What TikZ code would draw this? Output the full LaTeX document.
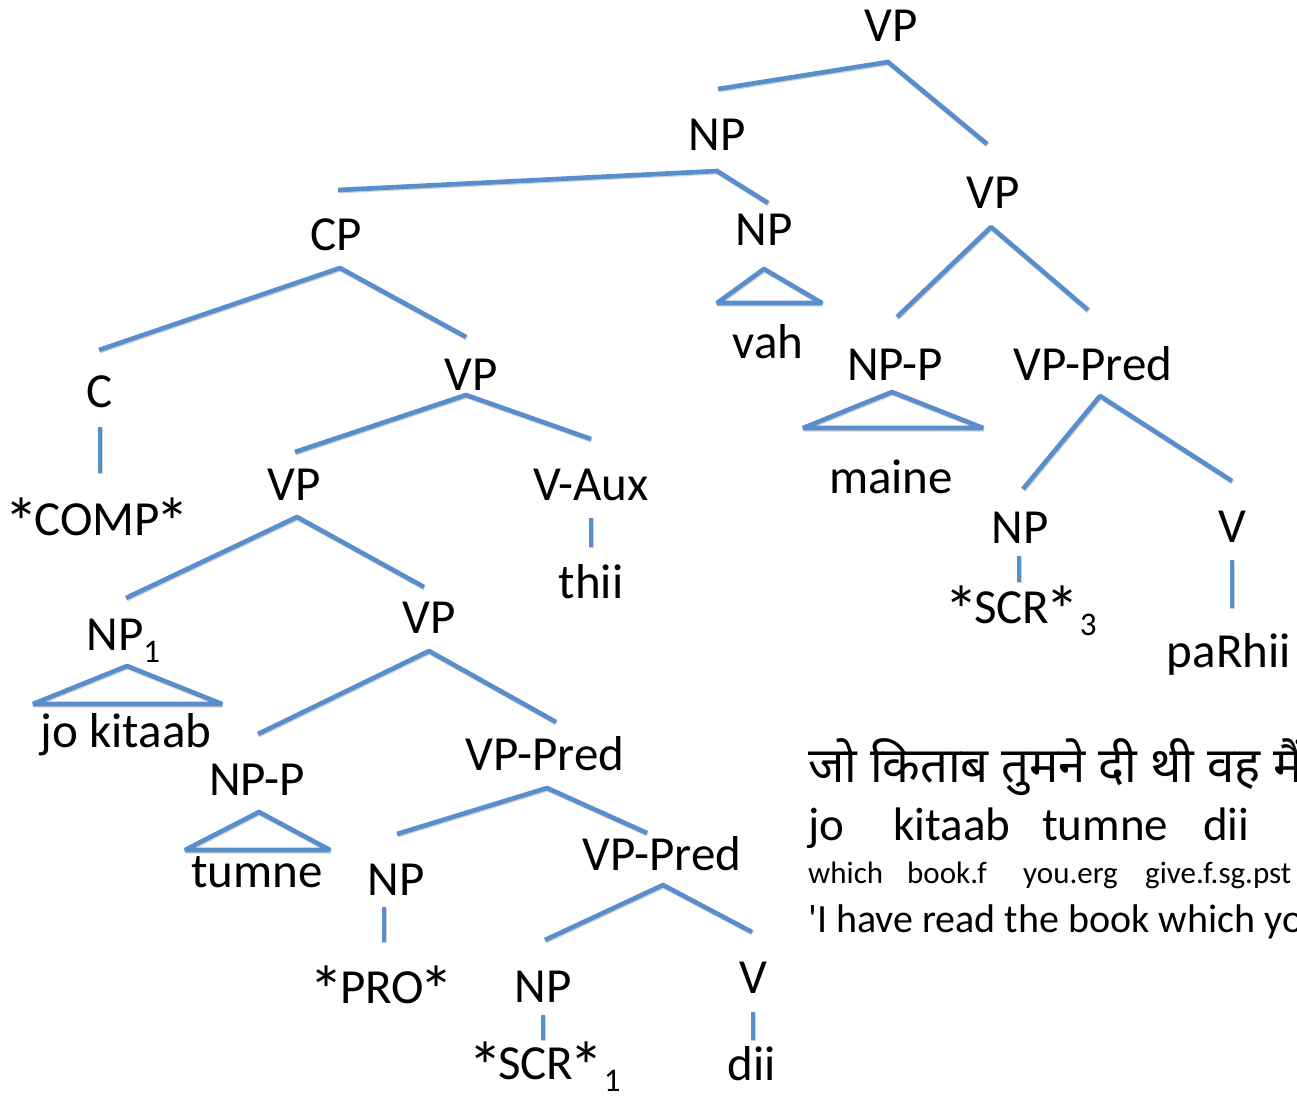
\documentclass[tikz,border=0pt]{standalone}
\usepackage{fontspec}
\setmainfont{Carlito}
\newfontfamily\deva[Script=Devanagari]{Noto Sans}
\definecolor{treeblue}{RGB}{88,142,204}
\begin{document}
\begin{tikzpicture}[x=1pt,y=-1pt,
  lbl/.style={inner sep=0pt, anchor=base, font=\fontsize{49}{50}\selectfont},
  edge/.style={draw=treeblue, line width=4.6pt, line join=bevel,
    preaction={draw=black, draw opacity=0.18, line width=4.6pt, line join=bevel,
      transform canvas={shift={(0.7pt,-1.2pt)}}}},
  glossA/.style={inner sep=0pt, anchor=base west, font=\fontsize{47}{48}\selectfont},
  glossB/.style={inner sep=0pt, anchor=base west, font=\fontsize{31}{32}\selectfont},
  glossC/.style={inner sep=0pt, anchor=base west, font=\fontsize{40}{41}\selectfont},
  devl/.style={inner sep=0pt, anchor=base west, font=\deva\fontsize{49}{50}\selectfont},
]
\newcommand{\subidx}[1]{\rlap{\raisebox{-12pt}{\fontsize{33}{33}\selectfont #1}}}
% enlarged asterisk, top aligned with the capitals
\newcommand{\last}{\smash{\raisebox{-11pt}{\scalebox{1.4}{*}}}\kern-4pt}
\newcommand{\rast}{\kern-4pt\smash{\raisebox{-11pt}{\scalebox{1.4}{*}}}}
\useasboundingbox (0,0) rectangle (1297,1097);
\clip (0,0) rectangle (1297,1097);

% ---- labels of the tree ----
\node[lbl] (vp0)   at (891,42)   {VP};
\node[lbl] (np0)   at (717,150)  {NP};
\node[lbl] (np1)   at (764,245)  {NP};
\node[lbl] (vah)   at (768,358)  {vah};
\node[lbl] (vp1)   at (993,208)  {VP};
\node[lbl] (npp0)  at (895,380)  {NP-P};
\node[lbl] (maine) at (891,493)  {maine};
\node[lbl] (vpp0)  at (1093,380) {VP-Pred};
\node[lbl] (np2)   at (1020,543) {NP};
\node[lbl] (scr3)  at (1012,623) {\last SCR\rast\subidx{3}};
\node[lbl] (v0)    at (1232,542) {V};
\node[lbl] (parhii) at (1229,667) {paRhii};

\node[lbl] (cp)    at (336,250)  {CP};
\node[lbl] (c)     at (100,407)  {C};
\node[lbl] (comp)  at (97,535)   {\last COMP\rast};
\node[lbl] (vp2)   at (471,390)  {VP};
\node[lbl] (vp3)   at (294,500)  {VP};
\node[lbl] (vaux)  at (591,500)  {V-Aux};
\node[lbl] (thii)  at (591,598)  {thii};
\node[lbl] (np3)   at (115,650)  {NP\subidx{1}};
\node[lbl] (jokit) at (126,747)  {jo kitaab};
\node[lbl] (vp4)   at (429,633)  {VP};
\node[lbl] (nppt)  at (257,795)  {NP-P};
\node[lbl] (tumne) at (257,887)  {tumne};
\node[lbl] (vpp1)  at (545,770)  {VP-Pred};
\node[lbl] (np4)   at (396,895)  {NP};
\node[lbl] (pro)   at (382,1003) {\last PRO\rast};
\node[lbl] (vpp2)  at (662,870)  {VP-Pred};
\node[lbl] (np5)   at (543,1002) {NP};
\node[lbl] (scr1)  at (536,1079) {\last SCR\rast\subidx{1}};
\node[lbl] (v1)    at (753,993)  {V};
\node[lbl] (dii)   at (752,1080) {dii};

% ---- branch points ----
\coordinate (vp0-t) at (888,62);   \coordinate (vp0-l) at (718,89);   \coordinate (vp0-r) at (987,144);
\coordinate (np0-t) at (717,171);  \coordinate (np0-l) at (338,190);  \coordinate (np0-r) at (768,203);
\coordinate (np1-t) at (764,269);  \coordinate (np1-l) at (717,303);  \coordinate (np1-r) at (822,303);
\coordinate (vp1-t) at (991,227);  \coordinate (vp1-l) at (897,317);  \coordinate (vp1-r) at (1088,310);
\coordinate (npp0-t) at (892,392); \coordinate (npp0-l) at (803,428); \coordinate (npp0-r) at (983,428);
\coordinate (vpp0-t) at (1100,396);\coordinate (vpp0-l) at (1023,489);\coordinate (vpp0-r) at (1232,481);
\coordinate (np2-t) at (1019,556); \coordinate (np2-b) at (1019,582);
\coordinate (v0-t) at (1232,560);  \coordinate (v0-b) at (1232,608);
\coordinate (cp-t) at (340,268);   \coordinate (cp-l) at (99,350);    \coordinate (cp-r) at (466,337);
\coordinate (c-t) at (100,427);    \coordinate (c-b) at (100,473);
\coordinate (vp2-t) at (466,395);  \coordinate (vp2-l) at (295,452);  \coordinate (vp2-r) at (591,439);
\coordinate (vp3-t) at (297,517);  \coordinate (vp3-l) at (126,598);  \coordinate (vp3-r) at (424,587);
\coordinate (vaux-t) at (591,518); \coordinate (vaux-b) at (591,547);
\coordinate (np3-t) at (127,666);  \coordinate (np3-l) at (33,704);   \coordinate (np3-r) at (222,704);
\coordinate (vp4-t) at (429,651);  \coordinate (vp4-l) at (258,734);  \coordinate (vp4-r) at (556,722);
\coordinate (nppt-t) at (259,812); \coordinate (nppt-l) at (185,850); \coordinate (nppt-r) at (330,850);
\coordinate (vpp1-t) at (547,788); \coordinate (vpp1-l) at (397,834); \coordinate (vpp1-r) at (647,833);
\coordinate (np4-t) at (384,907);  \coordinate (np4-b) at (384,942);
\coordinate (vpp2-t) at (663,885); \coordinate (vpp2-l) at (545,940); \coordinate (vpp2-r) at (752,932);
\coordinate (np5-t) at (543,1015); \coordinate (np5-b) at (543,1040);
\coordinate (v1-t) at (753,1012);  \coordinate (v1-b) at (753,1040);

% ---- branches ----
\draw[edge] (vp0-l) -- (vp0-t) -- (vp0-r);
\draw[edge] (np0-l) -- (np0-t) -- (np0-r);
\draw[edge] (np1-t) -- (np1-r) -- (np1-l) -- cycle;
\draw[edge] (vp1-l) -- (vp1-t) -- (vp1-r);
\draw[edge] (npp0-t) -- (npp0-r) -- (npp0-l) -- cycle;
\draw[edge] (vpp0-l) -- (vpp0-t) -- (vpp0-r);
\draw[edge] (np2-t) -- (np2-b);
\draw[edge] (v0-t) -- (v0-b);
\draw[edge] (cp-l) -- (cp-t) -- (cp-r);
\draw[edge] (c-t) -- (c-b);
\draw[edge] (vp2-l) -- (vp2-t) -- (vp2-r);
\draw[edge] (vp3-l) -- (vp3-t) -- (vp3-r);
\draw[edge] (vaux-t) -- (vaux-b);
\draw[edge] (np3-t) -- (np3-r) -- (np3-l) -- cycle;
\draw[edge] (vp4-l) -- (vp4-t) -- (vp4-r);
\draw[edge] (nppt-t) -- (nppt-r) -- (nppt-l) -- cycle;
\draw[edge] (vpp1-l) -- (vpp1-t) -- (vpp1-r);
\draw[edge] (np4-t) -- (np4-b);
\draw[edge] (vpp2-l) -- (vpp2-t) -- (vpp2-r);
\draw[edge] (np5-t) -- (np5-b);
\draw[edge] (v1-t) -- (v1-b);

% ---- example sentence with gloss ----
\node[devl] (hindi) at (808,782) {जो किताब तुमने दी थी वह मैंने};
\node[glossA] (g-jo)  at (808,840)  {jo};
\node[glossA] (g-kit) at (893,840)  {kitaab};
\node[glossA] (g-tum) at (1042,840) {tumne};
\node[glossA] (g-dii) at (1203,840) {dii};
\node[glossB] (b-wh)  at (808,883)  {which};
\node[glossB] (b-bk)  at (907,883)  {book.f};
\node[glossB] (b-you) at (1023,883) {you.erg};
\node[glossB] (b-giv) at (1145,883) {give.f.sg.pst};
\node[glossC] (trans) at (808,932)  {\textquotesingle I have read the book which you gave};
\end{tikzpicture}
\end{document}
